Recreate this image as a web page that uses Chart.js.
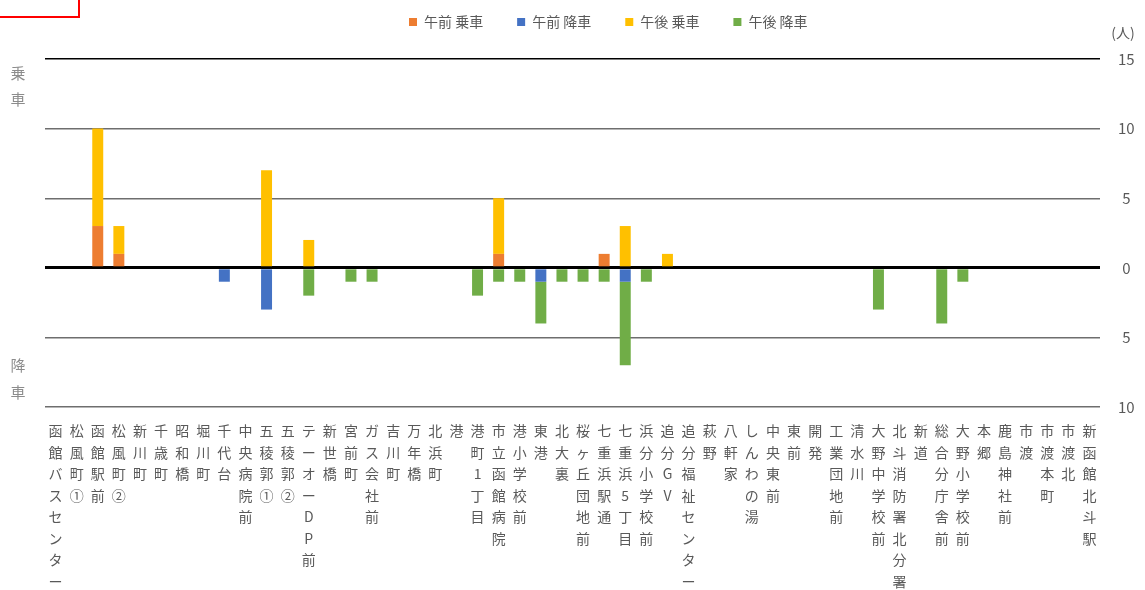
<!DOCTYPE html>
<html>
<head>
<meta charset="utf-8">
<script src="https://cdn.jsdelivr.net/npm/chart.js@4.4.0/dist/chart.umd.min.js"></script>
<style>
html,body{margin:0;padding:0;background:#fff;overflow:hidden;}
#wrap{position:relative;width:1145px;height:590px;}
#mark{position:absolute;left:-2px;top:-2px;width:82px;height:20px;border:2px solid #ff0000;box-sizing:border-box;}
</style>
</head>
<body>
<div id="wrap"><canvas id="c" width="1145" height="590"></canvas><div id="mark"></div></div>
<script>
const categories = [
  '函館バスセンター','松風町①','函館駅前','松風町②','新川町','千歳町','昭和橋','堀川町','千代台','中央病院前',
  '五稜郭①','五稜郭②','テーオーDP前','新世橋','宮前町','ガス会社前','吉川町','万年橋','北浜町','港',
  '港町1丁目','市立函館病院','港小学校前','東港','北大裏','桜ヶ丘団地前','七重浜駅通','七重浜5丁目','浜分小学校前','追分GV',
  '追分福祉センター','萩野','八軒家','しんわの湯','中央東前','東前','開発','工業団地前','清水川','大野中学校前',
  '北斗消防署北分署','新道','総合分庁舎前','大野小学校前','本郷','鹿島神社前','市渡','市渡本町','市渡北','新函館北斗駅'
];
const seriesNames = ['午前 乗車','午前 降車','午後 乗車','午後 降車'];
// boardings (upward) and alightings (downward, stored as counts)
const amBoard  = [0,0,3,1,0,0,0,0,0,0, 0,0,0,0,0,0,0,0,0,0, 0,1,0,0,0,0,1,0,0,0, 0,0,0,0,0,0,0,0,0,0, 0,0,0,0,0,0,0,0,0,0];
const amAlight = [0,0,0,0,0,0,0,0,1,0, 3,0,0,0,0,0,0,0,0,0, 0,0,0,1,0,0,0,1,0,0, 0,0,0,0,0,0,0,0,0,0, 0,0,0,0,0,0,0,0,0,0];
const pmBoard  = [0,0,7,2,0,0,0,0,0,0, 7,0,2,0,0,0,0,0,0,0, 0,4,0,0,0,0,0,3,0,1, 0,0,0,0,0,0,0,0,0,0, 0,0,0,0,0,0,0,0,0,0];
const pmAlight = [0,0,0,0,0,0,0,0,0,0, 0,0,2,0,1,1,0,0,0,0, 2,1,1,3,1,1,1,6,1,0, 0,0,0,0,0,0,0,0,0,3, 0,0,4,1,0,0,0,0,0,0];
const yTicks = {min: -10, max: 15, step: 5};
const colors = ['#ED7D31','#4472C4','#FFC000','#70AD47'];

const FONT = "'Noto Sans CJK JP','Noto Sans',sans-serif";
Chart.defaults.font.family = FONT;

const labels = categories.map(s => Array.from(s));
const neg = a => a.map(v => -v);
const seriesData = [amBoard, neg(amAlight), pmBoard, neg(pmAlight)];

const deco = {
  id: 'deco',
  afterLayout(chart) {
    const lg = chart.legend;
    if (!lg || !lg.lineWidths) return;
    const p = lg.options.labels.padding;
    const x0 = (lg.left + p + lg.right - lg.lineWidths[0]) / 2;
    const dx = 409 - x0;
    lg.left += dx; lg.right += dx;
    const dy = 22 - (lg.top + p + 7);
    lg.top += dy; lg.bottom += dy;
  },
  afterDraw(chart) {
    const ctx = chart.ctx;
    const a = chart.chartArea;
    ctx.save();
    ctx.textAlign = 'center';
    ctx.textBaseline = 'middle';
    ctx.fillStyle = '#595959';
    ctx.font = "14px " + FONT;
    ctx.fillText('(人)', a.right + 23, a.top - 26);
    ctx.fillStyle = '#8c8c8c';
    ctx.font = "15px " + FONT;
    ctx.fillText('乗', 18, a.top + 14);
    ctx.fillText('車', 18, a.top + 40);
    ctx.fillText('降', 18, a.top + 306);
    ctx.fillText('車', 18, a.top + 333);
    ctx.restore();
  }
};

new Chart(document.getElementById('c'), {
  type: 'bar',
  data: {
    labels: labels,
    datasets: seriesNames.map((n, i) => ({
      label: n,
      data: seriesData[i],
      backgroundColor: colors[i],
      borderWidth: 0,
      categoryPercentage: 1,
      barPercentage: 0.52
    }))
  },
  options: {
    responsive: false,
    animation: false,
    layout: {padding: {left: 45, right: 0, top: 1, bottom: 0}},
    plugins: {
      legend: {
        position: 'top',
        labels: {
          boxWidth: 8, boxHeight: 8, padding: 34,
          color: '#595959',
          font: {size: 14, family: FONT}
        }
      },
      tooltip: {enabled: false}
    },
    scales: {
      x: {
        stacked: true,
        grid: {display: false, drawTicks: false},
        border: {display: false},
        ticks: {
          autoSkip: false, maxRotation: 0, minRotation: 0, padding: 13,
          color: '#595959',
          font: {size: 14, family: FONT, lineHeight: '21.5px'}
        },
        afterFit(s) { s.height = 183; }
      },
      y: {
        stacked: true,
        position: 'right',
        min: yTicks.min, max: yTicks.max,
        grid: {
          drawTicks: false,
          color: c => (c.tick && (c.tick.value === 0 || c.tick.value === yTicks.max)) ? '#000000' : '#6e6e6e',
          lineWidth: c => (c.tick && c.tick.value === 0) ? 3 : 1.4
        },
        border: {display: false},
        ticks: {
          stepSize: yTicks.step,
          crossAlign: 'center',
          padding: 18,
          color: '#595959',
          font: {size: 15, family: FONT},
          callback: v => Math.abs(v)
        },
        afterFit(s) { s.width = 45; }
      }
    }
  },
  plugins: [deco]
});
</script>
</body>
</html>
